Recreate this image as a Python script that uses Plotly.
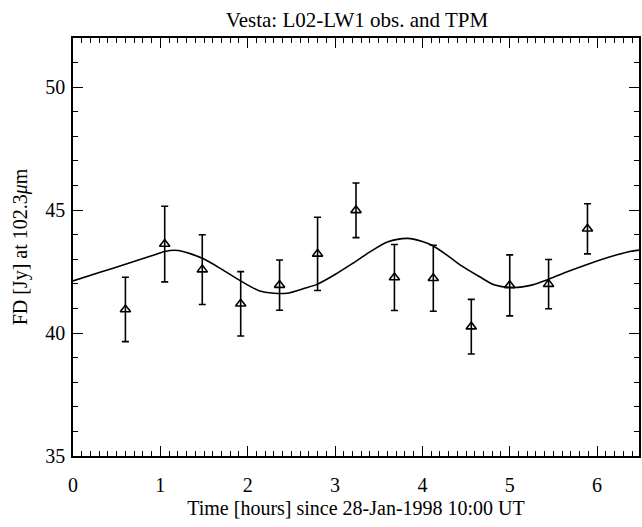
import plotly.graph_objects as go

# Observations (hours since 28-Jan-1998 10:00 UT)
obs_time = [0.60, 1.05, 1.48, 1.92, 2.365, 2.80, 3.24, 3.68, 4.125, 4.56, 5.00, 5.445, 5.89]
obs_flux = [40.96, 43.62, 42.58, 41.19, 41.95, 43.22, 44.99, 42.26, 42.23, 40.26, 41.94, 41.99, 44.24]
obs_err = [1.31, 1.54, 1.42, 1.31, 1.02, 1.49, 1.11, 1.34, 1.34, 1.11, 1.24, 1.00, 1.02]

# TPM model curve
tpm_time = [0.0, 0.3, 0.6, 0.9, 1.05, 1.2, 1.35, 1.5, 1.7, 1.92, 2.13, 2.3, 2.45, 2.65, 2.8,
            3.0, 3.2, 3.4, 3.6, 3.83, 4.0, 4.125, 4.3, 4.45, 4.65, 4.83, 5.05, 5.25, 5.445,
            5.65, 5.894, 6.15, 6.35, 6.5]
tpm_flux = [42.12, 42.46, 42.80, 43.14, 43.32, 43.36, 43.22, 43.01, 42.60, 42.12, 41.72, 41.62,
            41.62, 41.82, 41.99, 42.38, 42.83, 43.30, 43.70, 43.85, 43.72, 43.54, 43.12, 42.73,
            42.30, 41.95, 41.85, 41.95, 42.19, 42.48, 42.80, 43.10, 43.30, 43.38]

x_ticks = [0, 1, 2, 3, 4, 5, 6]
y_ticks = [35, 40, 45, 50]

FONT = "'Liberation Serif', 'DejaVu Serif', serif"

fig = go.Figure()
fig.add_trace(go.Scatter(
    x=tpm_time, y=tpm_flux, mode="lines",
    line=dict(color="black", width=1.6, shape="spline", smoothing=0.8),
    hoverinfo="skip", showlegend=False))
fig.add_trace(go.Scatter(
    x=obs_time, y=obs_flux, mode="markers",
    marker=dict(symbol="triangle-up-open", size=9, color="black", line=dict(width=1.6)),
    error_y=dict(type="data", array=obs_err, visible=True, color="black", thickness=1.6, width=3.5),
    showlegend=False))

axis_common = dict(
    showline=True, linecolor="black", linewidth=1.5, mirror="allticks",
    ticks="inside", tickcolor="black", tickwidth=1.2, ticklen=10,
    showgrid=False, zeroline=False,
    tickfont=dict(family=FONT, size=20, color="black"),
)

fig.update_xaxes(
    range=[0, 6.48], tickvals=x_ticks, ticktext=[str(v) for v in x_ticks],
    minor=dict(ticks="inside", ticklen=5, dtick=0.1, tickcolor="black", tickwidth=1),
    ticklabelstandoff=10,
    title=dict(text="Time [hours] since 28-Jan-1998 10:00 UT",
               font=dict(family=FONT, size=20, color="black"), standoff=6),
    **axis_common)
fig.update_yaxes(
    range=[35, 52], tickvals=y_ticks, ticktext=[str(v) for v in y_ticks],
    minor=dict(ticks="inside", ticklen=5, dtick=1, tickcolor="black", tickwidth=1),
    ticklabelstandoff=2,
    title=dict(text="FD [Jy] at 102.3<i>μ</i>m",
               font=dict(family=FONT, size=20, color="black"), standoff=12),
    **axis_common)

fig.update_layout(
    width=642, height=527,
    margin=dict(l=73, r=1, t=38, b=71),
    paper_bgcolor="white", plot_bgcolor="white",
    font=dict(family=FONT, color="black"),
    title=dict(text="Vesta: L02-LW1 obs. and TPM", x=357 / 642, xanchor="center",
               y=1 - 20 / 527, yanchor="middle", font=dict(family=FONT, size=21, color="black")),
)

fig.write_html("out.html")
